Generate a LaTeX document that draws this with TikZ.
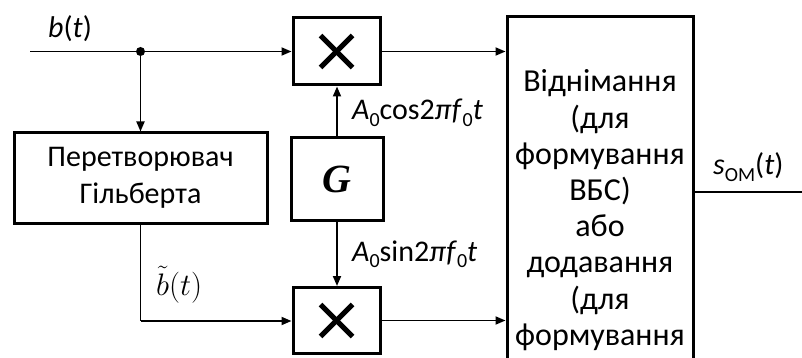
\documentclass[tikz,border=0pt]{standalone}
\usepackage{fontspec}
\setmainfont{Carlito}
\newfontfamily\gfont{Liberation Serif}
\usetikzlibrary{arrows.meta}
\newcommand\sbz[1]{\raisebox{-0.22em}{\fontsize{20}{20}\selectfont #1}}
\begin{document}
\begin{tikzpicture}[x=1pt,y=-1pt,
  blk/.style={draw, line width=3pt, inner sep=0pt},
  wire/.style={line width=1.8pt},
  arr/.style={wire, -{Triangle[length=10pt,width=8pt]}},
  lbl/.style={inner sep=0pt, font=\fontsize{30}{36}\selectfont}]
\clip (0,0) rectangle (802,358);
% blocks
\node[blk, minimum width=87pt, minimum height=67pt] (mulA) at (336.5,51.5) {};
\node[blk, minimum width=87pt, minimum height=66pt] (mulB) at (336.5,320.5) {};
\node[blk, minimum width=92pt, minimum height=82pt] (gen) at (337,179)
  {\gfont\bfseries\itshape\fontsize{40}{40}\selectfont G};
\node[blk, minimum width=253pt, minimum height=90pt, align=center,
  font=\fontsize{30}{37}\selectfont] (hil) at (140.5,178)
  {Перетворювач\\Гільберта};
\node[blk, minimum width=186pt, minimum height=350pt] (sum) at (600,192) {};
\node[inner sep=0pt, anchor=base] (sumtxt) at (600,92)
  {\parbox[t]{184pt}{\centering\fontsize{32}{36.2}\selectfont
   Віднімання\\(для\\формування\\ВБС)\\або\\додавання\\(для\\формування}};
% multiplier crosses
\foreach \m in {mulA,mulB}{
  \draw[line width=5pt] ([shift={(-16,-16)}]\m.center) -- ([shift={(16,16)}]\m.center);
  \draw[line width=5pt] ([shift={(-16,16)}]\m.center) -- ([shift={(16,-16)}]\m.center);
}
% connectors
\coordinate (in) at (30,51.5);
\coordinate (dot) at (140.5,51.5);
\coordinate (hb) at (140.5,321);
\coordinate (out) at (802,192);
\draw[arr] (in) -- (mulA.west);
\fill (dot) circle (4.5pt);
\draw[arr] (dot) -- (hil.north);
\draw[wire] (hil.south) -- (hb);
\draw[arr] (hb) -- (hb -| mulB.west);
\draw[arr] (gen.north) -- (gen.north |- mulA.south);
\draw[arr] (gen.south) -- (gen.south |- mulB.north);
\draw[arr] (mulA.east) -- (mulA.east -| sum.west);
\draw[arr] (mulB.east) -- (mulB.east -| sum.west);
\draw[wire] (sum.east |- out) -- (out);
% labels
\node[lbl, anchor=base west] (lb) at (48,38) {\itshape b\/\upshape(\itshape t\/\upshape)};
\node[lbl, anchor=base west] (lcos) at (352,120)
  {\itshape A\upshape\sbz{0}cos2\itshape π\kern0.5pt f\/\upshape\sbz{0}\itshape t};
\node[lbl, anchor=base west] (lsin) at (352,261)
  {\itshape A\upshape\sbz{0}sin2\itshape π\kern0.5pt f\/\upshape\sbz{0}\itshape t};
\node[inner sep=0pt, anchor=base west] (lh) at (156,295)
  {\fontsize{24}{24}\selectfont\scalebox{1.25}{$\tilde{b}(t)$}};
\node[lbl, anchor=base west] (ls) at (713,175)
  {\itshape s\upshape\sbz{ОМ}(\itshape t\/\upshape)};
\end{tikzpicture}
\end{document}
